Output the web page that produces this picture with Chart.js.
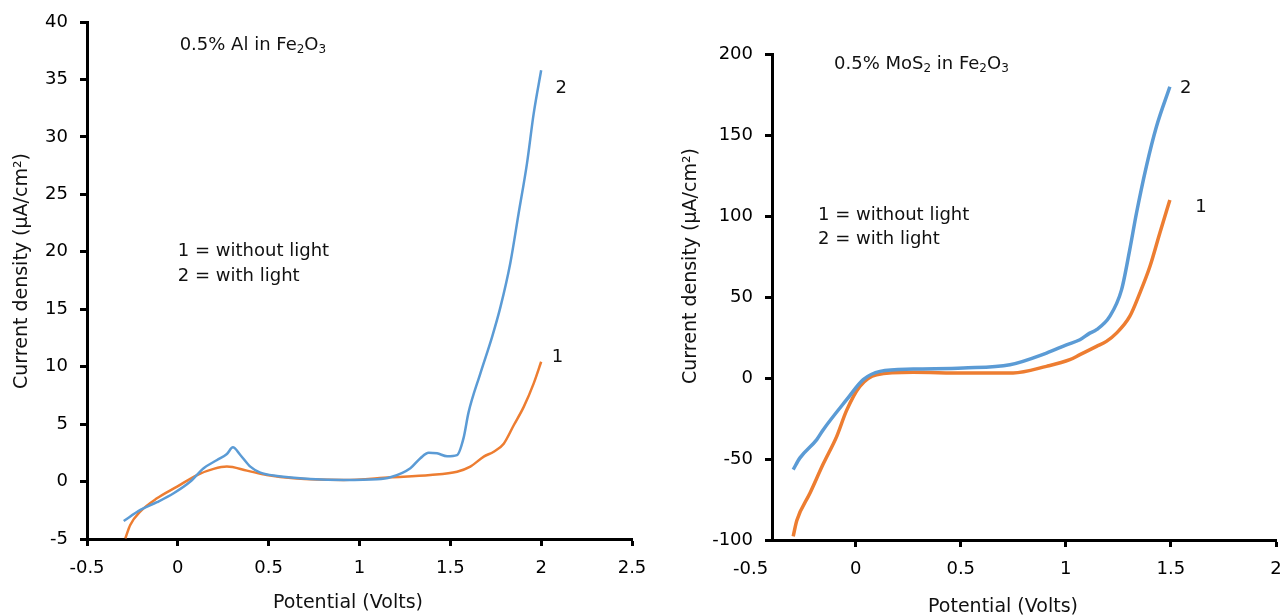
<!DOCTYPE html>
<html>
<head>
<meta charset="utf-8">
<title>Current density vs potential</title>
<script src="https://cdn.jsdelivr.net/npm/chart.js@4.4.0/dist/chart.umd.min.js"></script>
<style>
  body { margin: 0; background: #fff; }
  #wrap { position: relative; width: 1285px; height: 615px; overflow: hidden; }
  canvas { position: absolute; top: 0; }
  #alChart { left: 0; }
  #mosChart { left: 640px; }
</style>
</head>
<body>
<div id="wrap">
  <canvas id="alChart" width="650" height="615"></canvas>
  <canvas id="mosChart" width="645" height="615"></canvas>
</div>
<script>
// 0.5% Al in Fe2O3 : potential (V) / current density (uA/cm2)
const alLightV = [-0.298, -0.206, -0.115, -0.023, 0.069, 0.142, 0.216, 0.27, 0.303, 0.344, 0.399, 0.454, 0.546, 0.729, 0.913, 1.096, 1.17, 1.28, 1.335, 1.381, 1.427, 1.482, 1.537, 1.573, 1.6, 1.665, 1.73, 1.776, 1.83, 1.876, 1.922, 1.959, 2.0];
const alLightI = [-3.43, -2.47, -1.8, -1.02, 0.0, 1.16, 1.88, 2.4, 2.98, 2.31, 1.3, 0.78, 0.49, 0.23, 0.14, 0.2, 0.37, 1.16, 2.03, 2.5, 2.46, 2.2, 2.3, 3.8, 6.0, 9.4, 12.6, 15.2, 19.0, 23.35, 27.7, 32.05, 35.8];
const alDarkV = [-0.289, -0.262, -0.206, -0.115, -0.004, 0.106, 0.197, 0.27, 0.38, 0.49, 0.638, 0.913, 1.17, 1.39, 1.537, 1.61, 1.684, 1.739, 1.794, 1.849, 1.904, 1.959, 2.0];
const alDarkI = [-4.94, -3.78, -2.6, -1.46, -0.44, 0.57, 1.1, 1.3, 0.95, 0.57, 0.28, 0.14, 0.37, 0.57, 0.86, 1.3, 2.17, 2.6, 3.3, 4.9, 6.5, 8.55, 10.43];

// 0.5% MoS2 in Fe2O3
const mosLightV = [-0.297, -0.265, -0.185, -0.154, -0.043, 0.036, 0.116, 0.274, 0.512, 0.734, 0.908, 1.003, 1.067, 1.114, 1.146, 1.209, 1.265, 1.304, 1.336, 1.383, 1.431, 1.495];
const mosLightI = [-56.5, -49.3, -38, -31.9, -13.4, -1.0, 4.1, 5.5, 6.2, 8.2, 15.4, 20.5, 23.6, 27.7, 29.8, 38, 54.4, 79.1, 101.7, 130.5, 155.1, 179.8];
const mosDarkV = [-0.297, -0.28, -0.217, -0.154, -0.09, -0.043, 0.02, 0.1, 0.274, 0.512, 0.749, 0.908, 1.019, 1.067, 1.146, 1.193, 1.241, 1.304, 1.352, 1.4, 1.447, 1.495];
const mosDarkI = [-97.7, -88, -71, -53, -36, -20, -5.2, 2.0, 3.5, 3.1, 3.1, 7.2, 11.3, 14.4, 19.5, 22.6, 27.7, 38, 52.4, 68.8, 89.4, 109.9];

// tick labels
const alXTicks = [-0.5, 0, 0.5, 1, 1.5, 2, 2.5];
const mosXTicks = [-0.5, 0, 0.5, 1, 1.5, 2];

const BLUE = "#5b9bd5";
const ORANGE = "#ed7d31";
const INK = "#111111";
const FAMILY = "'DejaVu Sans', 'Liberation Sans', Arial, sans-serif";

const pts = (vs, is) => vs.map((v, i) => ({ x: v, y: is[i] }));

//draws text with "_2" style subscripts
function drawRich(ctx, text, x, y, align) {
  const parts = text.split(/(_\d)/).filter(Boolean).map((p) =>
    p[0] === "_" ? { t: p.slice(1), sub: true } : { t: p, sub: false }
  );
  const fontOf = (p) => (p.sub ? "12px " : "18px ") + FAMILY;
  let width = 0;
  parts.forEach((p) => {
    ctx.font = fontOf(p);
    p.w = ctx.measureText(p.t).width;
    width += p.w;
  });
  let cx = align === "center" ? x - width / 2 : x;
  ctx.textAlign = "left";
  parts.forEach((p) => {
    ctx.font = fontOf(p);
    ctx.fillText(p.t, cx, p.sub ? y + 5 : y);
    cx += p.w;
  });
}

//notes sit at data coordinates, axis titles at canvas pixels
function captions(notes, titles) {
  return {
    id: "captions",
    afterDraw(chart) {
      const ctx = chart.ctx;
      const xs = chart.scales.x;
      const ys = chart.scales.y;
      ctx.save();
      ctx.fillStyle = INK;
      ctx.textBaseline = "middle";
      notes.forEach((n) => {
        drawRich(ctx, n.text, xs.getPixelForValue(n.x), ys.getPixelForValue(n.y), n.align);
      });
      titles.forEach((t) => {
        ctx.save();
        ctx.translate(t.left, t.top);
        if (t.vertical) ctx.rotate(-Math.PI / 2);
        ctx.font = "19px " + FAMILY;
        ctx.textAlign = "center";
        ctx.fillText(t.text, 0, 0);
        ctx.restore();
      });
      ctx.restore();
    },
  };
}

const axisStyle = {
  grid: {
    display: true,
    drawOnChartArea: false,
    drawTicks: true,
    tickLength: 7,
    tickWidth: 3,
    tickColor: "#000",
  },
  border: { display: true, color: "#000", width: 3 },
};

function buildChart(id, cfg) {
  return new Chart(document.getElementById(id), {
    type: "line",
    plugins: [captions(cfg.notes, cfg.titles)],
    data: {
      datasets: [
        {
          data: cfg.light,
          borderColor: BLUE,
          borderWidth: cfg.lineWidth,
          pointRadius: 0,
          cubicInterpolationMode: "monotone",
        },
        {
          data: cfg.dark,
          borderColor: ORANGE,
          borderWidth: cfg.lineWidth,
          pointRadius: 0,
          cubicInterpolationMode: "monotone",
        },
      ],
    },
    options: {
      responsive: false,
      animation: false,
      events: [],
      layout: { padding: cfg.padding },
      plugins: { legend: { display: false }, tooltip: { enabled: false } },
      scales: {
        x: {
          type: "linear",
          min: cfg.xMin,
          max: cfg.xMax,
          ...axisStyle,
          grid: {
            ...axisStyle.grid,
            // no tick mark for a label left of the y axis
            tickColor: (c) => (c.tick && c.tick.value < cfg.xMin ? "rgba(0,0,0,0)" : "#000"),
          },
          afterBuildTicks: (s) => {
            s.ticks = cfg.xTicks.map((v) => ({ value: v }));
          },
          afterFit: (s) => {
            s.height = cfg.xHeight;
            //plot edges are set by layout padding alone
            s.paddingLeft = 0;
            s.paddingRight = 0;
          },
          ticks: {
            color: "#000",
            padding: 12,
            maxRotation: 0,
            autoSkip: false,
            font: { family: FAMILY, size: 18 },
            callback: (v) => String(v),
          },
        },
        y: {
          min: cfg.yMin,
          max: cfg.yMax,
          ...axisStyle,
          afterFit: (s) => {
            s.width = cfg.yWidth;
            s.paddingTop = 0;
            s.paddingBottom = 0;
          },
          ticks: {
            stepSize: cfg.yStep,
            color: "#000",
            padding: 12,
            font: { family: FAMILY, size: 18 },
            callback: (v) => String(v),
          },
        },
      },
    },
  });
}

//Al doped chart
buildChart("alChart", {
  light: pts(alLightV, alLightI),
  dark: pts(alDarkV, alDarkI),
  lineWidth: 2.5,
  xMin: -0.5,
  xMax: 2.5,
  xTicks: alXTicks,
  yMin: -5,
  yMax: 40,
  yStep: 5,
  yWidth: 87,
  xHeight: 76,
  padding: { top: 22, right: 18, left: 0, bottom: 0 },
  notes: [
    { text: "0.5% Al in Fe_2O_3", x: 0.01, y: 38 },
    { text: "1 = without light", x: 0, y: 20 },
    { text: "2 = with light", x: 0, y: 17.9 },
    { text: "2", x: 2.111, y: 34.2, align: "center" },
    { text: "1", x: 2.09, y: 10.85, align: "center" },
  ],
  titles: [
    { text: "Current density (\u00b5A/cm\u00b2)", left: 22, top: 271, vertical: true },
    { text: "Potential (Volts)", left: 348, top: 603 },
  ],
});

//MoS2 doped chart, y axis crosses just right of -0.5
buildChart("mosChart", {
  light: pts(mosLightV, mosLightI),
  dark: pts(mosDarkV, mosDarkI),
  lineWidth: 3.5,
  xMin: -0.398,
  xMax: 2,
  xTicks: mosXTicks,
  yMin: -100,
  yMax: 200,
  yStep: 50,
  yWidth: 132,
  xHeight: 75,
  padding: { top: 54, right: 9, left: 0, bottom: 0 },
  notes: [
    { text: "0.5% MoS_2 in Fe_2O_3", x: -0.103, y: 193.8 },
    { text: "1 = without light", x: -0.179, y: 100.7 },
    { text: "2 = with light", x: -0.179, y: 85.3 },
    { text: "2", x: 1.57, y: 179, align: "center" },
    { text: "1", x: 1.643, y: 105.6, align: "center" },
  ],
  titles: [
    { text: "Current density (\u00b5A/cm\u00b2)", left: 51, top: 266, vertical: true },
    { text: "Potential (Volts)", left: 363, top: 607 },
  ],
});
</script>
</body>
</html>
